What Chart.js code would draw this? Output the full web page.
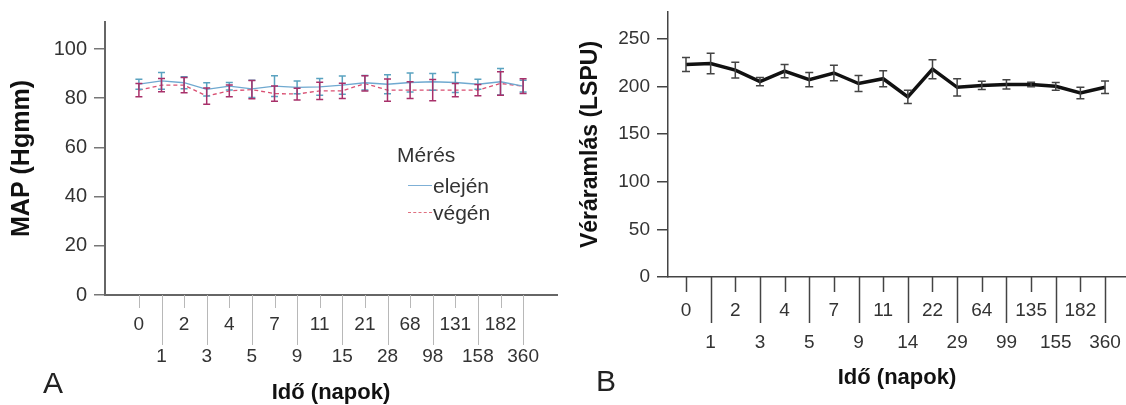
<!DOCTYPE html>
<html lang="hu">
<head>
<meta charset="utf-8">
<title>MAP és véráramlás</title>
<script src="https://cdn.jsdelivr.net/npm/chart.js@4.4.0/dist/chart.umd.min.js"></script>
<style>
body { margin: 0; background: #fff; font-family: "Liberation Sans", Arial, sans-serif; }
#wrap { position: relative; width: 1126px; height: 405px; overflow: hidden; }
canvas { position: absolute; top: 0; }
#chartA { left: 0; }
#chartB { left: 560px; }
.panel { position: absolute; font-size: 30px; line-height: 30px; color: #222; }
#legend { position: absolute; left: 397px; top: 142px; font-size: 21px; color: #333; }
#legend .ttl { height: 30px; line-height: 26px; }
#legend .row { height: 27px; display: flex; align-items: center; }
#legend .smp { width: 24px; height: 0; margin: 0 1px 0 11px; }
</style>
</head>
<body>
<div id="wrap">
  <canvas id="chartA" width="560" height="405"></canvas>
  <canvas id="chartB" width="566" height="405"></canvas>
  <div id="legend"></div>
  <div class="panel" style="left:43px; top:368px;">A</div>
  <div class="panel" style="left:596px; top:366px;">B</div>
</div>

<script>
// A panel: MAP, mérés eleje / vége
var napokA = ['0', '1', '2', '3', '4', '5', '7', '9', '11', '15', '21', '28', '68', '98', '131', '158', '182', '360'];
var elejen = [85.7, 87.1, 86.3, 83.6, 84.9, 83.8, 84.9, 84.4, 84.6, 85.3, 86.3, 85.7, 86.4, 86.7, 86.4, 85.7, 86.7, 84.9];
var elejenHiba = [2.0, 3.4, 2.4, 2.7, 1.5, 3.5, 4.2, 2.6, 3.4, 3.7, 2.9, 3.9, 3.9, 3.4, 4.1, 2.0, 5.4, 2.4];
var vegen = [83.3, 85.3, 85.3, 80.9, 83.0, 83.5, 81.9, 81.7, 83.0, 83.0, 86.0, 83.3, 83.3, 83.3, 83.3, 83.3, 86.0, 84.9];
var vegenHiba = [2.7, 2.7, 3.1, 3.3, 2.4, 3.7, 3.1, 2.4, 3.5, 3.1, 3.1, 4.5, 3.4, 4.3, 2.7, 2.3, 4.8, 3.0];
var mapTicks = [0, 20, 40, 60, 80, 100];
var sorozatNevek = ['elején', 'végén'];

// B panel: véráramlás
var napokB = ['0', '1', '2', '3', '4', '5', '7', '9', '11', '14', '22', '29', '64', '99', '135', '155', '182', '360'];
var veraramlas = [223, 224, 217, 205, 216, 207, 214, 203, 208, 189, 218, 199, 201, 202, 202, 200, 193, 199];
var veraramlasHiba = [7.3, 10.8, 8.2, 4.4, 7, 7.5, 8.2, 8.4, 8.4, 7, 10, 9, 4.4, 4.9, 2.3, 4, 6.1, 6.5];
var lspuTicks = [0, 50, 100, 150, 200, 250];

Chart.defaults.font.family = '"Liberation Sans", Arial, sans-serif';
Chart.defaults.color = '#333';

var errorBars = {
  id: 'errorBars',
  afterDatasetsDraw: function(chart, args, o) {
    var ctx = chart.ctx, x = chart.scales.x, y = chart.scales.y;
    chart.data.datasets.forEach(function(ds) {
      if (!ds.errors) return;
      ctx.save();
      ctx.strokeStyle = ds.errorColor;
      ctx.lineWidth = o.width;
      ds.data.forEach(function(p, i) {
        var px = x.getPixelForValue(p.x);
        var hi = y.getPixelForValue(p.y + ds.errors[i]);
        var lo = y.getPixelForValue(p.y - ds.errors[i]);
        ctx.beginPath();
        ctx.moveTo(px, hi); ctx.lineTo(px, lo);
        ctx.moveTo(px - o.cap, hi); ctx.lineTo(px + o.cap, hi);
        ctx.moveTo(px - o.cap, lo); ctx.lineTo(px + o.cap, lo);
        ctx.stroke();
      });
      ctx.restore();
    });
  }
};

// short ticks under the upper label row, long ones down to the lower row
var xTickMarks = {
  id: 'xTickMarks',
  afterDraw: function(chart, args, o) {
    var ctx = chart.ctx, x = chart.scales.x;
    ctx.save();
    ctx.strokeStyle = o.color;
    ctx.lineWidth = o.width;
    x.ticks.forEach(function(t, i) {
      var px = Math.round(x.getPixelForValue(t.value)) + 0.5;
      ctx.beginPath();
      ctx.moveTo(px, x.top);
      ctx.lineTo(px, x.top + (i % 2 ? o.long : o.short));
      ctx.stroke();
    });
    ctx.restore();
  }
};

function noPad(s) {
  s.paddingTop = 0; s.paddingBottom = 0; s.paddingLeft = 0; s.paddingRight = 0;
}

function makeChart(id, o) {
  return new Chart(document.getElementById(id), {
    type: 'line',
    data: { datasets: o.datasets },
    plugins: [errorBars, xTickMarks],
    options: {
      responsive: false,
      animation: false,
      layout: { padding: o.padding },
      elements: { point: { radius: 0 }, line: { tension: 0 } },
      plugins: {
        legend: { display: false },
        tooltip: { enabled: false },
        errorBars: o.err,
        xTickMarks: o.marks
      },
      scales: {
        x: {
          type: 'linear',
          min: o.xMin, max: o.xMax,
          afterBuildTicks: function(s) { s.ticks = o.labels.map(function(_, i) { return { value: i }; }); },
          afterFit: function(s) { s.height = o.xHeight; noPad(s); },
          grid: { display: false, drawTicks: false },
          border: { color: o.axisColor, width: o.axisWidth },
          ticks: {
            autoSkip: false, maxRotation: 0, padding: o.xPad, color: '#333',
            font: { size: 19, lineHeight: 32 / 19 },
            callback: function(v) { return v % 2 ? ['', o.labels[v]] : o.labels[v]; }
          },
          title: {
            display: true, text: 'Idő (napok)', color: '#111',
            font: { size: 22, weight: 'bold', lineHeight: 24 / 22 },
            padding: { top: 0, bottom: o.xTitlePad }
          }
        },
        y: {
          min: 0, max: o.yMax,
          afterBuildTicks: function(s) { s.ticks = o.yTicks.map(function(v) { return { value: v }; }); },
          afterFit: function(s) { s.width = o.yWidth; noPad(s); },
          grid: { drawOnChartArea: false, tickLength: 11, color: o.yTickColor, lineWidth: 1.5 },
          border: { color: o.axisColor, width: o.axisWidth },
          ticks: { padding: 7, color: '#333', font: { size: o.yFont } },
          title: {
            display: true, text: o.yTitle, color: '#111',
            font: { size: o.yTitleSize, weight: 'bold', lineHeight: 1.2 },
            padding: { top: o.yTitlePad, bottom: 0 }
          }
        }
      }
    }
  });
}

function points(values) {
  return values.map(function(v, i) { return { x: i, y: v }; });
}

makeChart('chartA', {
  labels: napokA, yTicks: mapTicks, yMax: 111,
  xMin: -1.5, xMax: 18.5,
  padding: { top: 22, right: 3, bottom: 0, left: 0 },
  xHeight: 110, yWidth: 105, xPad: 14, xTitlePad: 0,
  axisColor: '#666', axisWidth: 2, yTickColor: '#777',
  yFont: 20, yTitle: 'MAP (Hgmm)', yTitleSize: 25, yTitlePad: 7,
  err: { width: 1.5, cap: 3.5 },
  marks: { color: '#b8b8b8', width: 1, short: 13, long: 50 },
  datasets: [
    { label: sorozatNevek[0], data: points(elejen), errors: elejenHiba, errorColor: '#5aa2c0',
      borderColor: '#6fa9d0', borderWidth: 1.3 },
    { label: sorozatNevek[1], data: points(vegen), errors: vegenHiba, errorColor: '#a8306a',
      borderColor: '#d94f72', borderWidth: 1.3, borderDash: [4, 3] }
  ]
});

makeChart('chartB', {
  labels: napokB, yTicks: lspuTicks, yMax: 278,
  xMin: -0.73, xMax: 17.85,
  padding: { top: 12, right: 0, bottom: 0, left: 0 },
  xHeight: 128, yWidth: 108, xPad: 18, xTitlePad: 15,
  axisColor: '#444', axisWidth: 1.5, yTickColor: '#444',
  yFont: 19, yTitle: 'Véráramlás (LSPU)', yTitleSize: 23, yTitlePad: 17,
  err: { width: 1.5, cap: 4 },
  marks: { color: '#444', width: 1.5, short: 15, long: 46 },
  datasets: [
    { label: 'Véráramlás', data: points(veraramlas), errors: veraramlasHiba, errorColor: '#444',
      borderColor: '#111', borderWidth: 3.5 }
  ]
});

// legend inside panel A
var legend = document.getElementById('legend');
var html = '<div class="ttl">Mérés</div>';
var smp = ['1.5px solid #7fb0d6', '1.5px dashed #e07080'];
sorozatNevek.forEach(function(n, i) {
  html += '<div class="row"><span class="smp" style="border-top:' + smp[i] + '"></span>' + n + '</div>';
});
legend.innerHTML = html;
</script>
</body>
</html>
